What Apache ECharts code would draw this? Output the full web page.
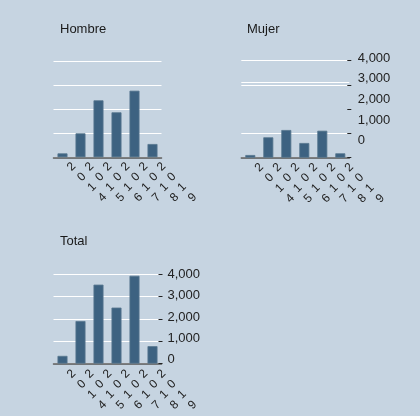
<!DOCTYPE html>
<html>
<head>
<meta charset="utf-8">
<script src="https://cdn.jsdelivr.net/npm/echarts@6/dist/echarts.min.js"></script>
<style>
html,body{margin:0;padding:0;background:#c6d4e1;}
#c{width:420px;height:416px;}
</style>
</head>
<body>
<div id="c"></div>
<script>
const years = ['2014','2015','2016','2017','2018','2019'];
const hombre = [164, 997, 2367, 1869, 2766, 552];
const mujer  = [111, 841, 1142, 606, 1113, 181];
const total  = [344, 1900, 3525, 2500, 3920, 778];
const yTicks = [0, 1000, 2000, 3000, 4000];
const panelTitles = ['Hombre', 'Mujer', 'Total'];

const FONT = 'Liberation Sans, Arial, sans-serif';
const barColor = '#3d6281';
const bg = '#c6d4e1';

const chart = echarts.init(document.getElementById('c'), null, {renderer:'canvas'});

function xAxisFor(gi, mg){
  return {
    type:'category', gridIndex:gi, data:years,
    axisLine:{show:true, lineStyle:{color:'#555', width:1.5}},
    axisTick:{show:false},
    axisLabel:{
      interval:0, rotate:45, align:'left', verticalAlign:'top', margin:mg,
      padding:[0,0,0,2],
      fontFamily:FONT, fontSize:12, lineHeight:14.6, color:'#222',
      formatter: v => v.split('').join('\n')
    },
    splitLine:{show:false}
  };
}
function yAxisFor(gi, showTicks, lineColors, off){
  return {
    type:'value', gridIndex:gi, position:'right', min:yTicks[0], max:yTicks[yTicks.length-1], interval:1000,
    offset: off || 0,
    axisLine:{show:false},
    axisTick:{show:showTicks, length:4, lineStyle:{color:'#222'}},
    axisLabel:{show:false},
    splitLine:{show:true, lineStyle:{color:lineColors, width:1}}
  };
}
function labelAxes(gi, mg){
  return [
    {type:'value', gridIndex:gi, show:false, min:0, max:1},
    {type:'value', gridIndex:gi, position:'right', min:yTicks[0], max:yTicks[yTicks.length-1], interval:1000,
     axisLine:{show:false}, axisTick:{show:false}, splitLine:{show:false},
     axisLabel:{show:true, margin:mg, fontFamily:FONT, fontSize:13, color:'#222'}}
  ];
}
const mujLabel = labelAxes(3, 8.5);
const totLabel = labelAxes(4, 6);

const titleStyle = {fontFamily:FONT, fontSize:13, fontWeight:'normal', color:'#1a1a1a'};

const option = {
  backgroundColor: bg,
  animation:false,
  title:[
    {text:panelTitles[0], left:60, top:23, padding:0, textStyle:titleStyle},
    {text:panelTitles[1], left:247, top:23, padding:0, textStyle:titleStyle},
    {text:panelTitles[2], left:60, top:235, padding:0, textStyle:titleStyle}
  ],
  grid:[
    {left:53.5, top:61, width:108, height:96.3},
    {left:241.3, top:60.7, width:108, height:97},
    {left:53.5, top:274, width:108, height:97.7},
    {left:241.3, top:58, width:108, height:82.6},
    {left:53.5, top:274.8, width:108, height:84.4}
  ],
  xAxis:[xAxisFor(0, 8), xAxisFor(1, 8.5), xAxisFor(2, 9), mujLabel[0], totLabel[0]],
  yAxis:[
    yAxisFor(0, false, '#ffffff'),
    yAxisFor(1, true, ['#ffffff','#ffffff','rgba(0,0,0,0)','#ffffff','#ffffff'], -2),
    yAxisFor(2, true, '#ffffff', -3),
    mujLabel[1], totLabel[1]
  ],
  series:[
    {type:'bar', xAxisIndex:0, yAxisIndex:0, data:hombre, barWidth:10,
     itemStyle:{color:barColor, borderColor:'#58778f', borderWidth:0.8}},
    {type:'bar', xAxisIndex:1, yAxisIndex:1, data:mujer, barWidth:10,
     itemStyle:{color:barColor, borderColor:'#58778f', borderWidth:0.8},
     markLine:{silent:true, symbol:'none', label:{show:false}, lineStyle:{color:'#ffffff', type:'solid', width:1},
       data:[{yAxis:3110}]}},
    {type:'bar', xAxisIndex:2, yAxisIndex:2, data:total, barWidth:10,
     itemStyle:{color:barColor, borderColor:'#58778f', borderWidth:0.8}}
  ]
};
chart.setOption(option);
</script>
</body>
</html>
